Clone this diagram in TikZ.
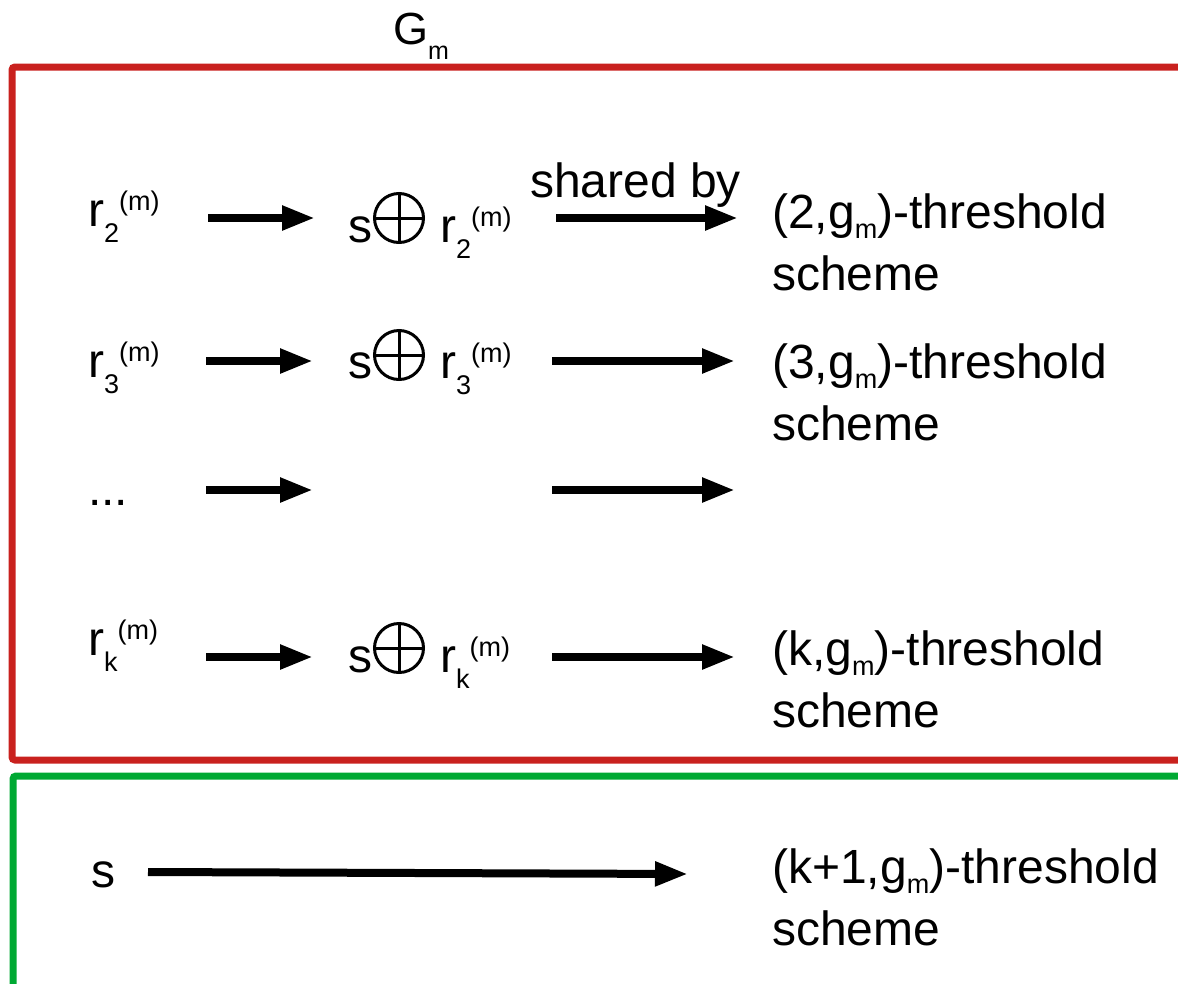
\documentclass[tikz,border=0pt]{standalone}
\usepackage{fontspec}
\setmainfont{Liberation Sans}
\usetikzlibrary{arrows.meta}
\definecolor{gmred}{RGB}{201,33,30}
\definecolor{gmgreen}{RGB}{0,169,51}
\newcommand{\bigfs}{\fontsize{48}{62}\selectfont}
\newcommand{\smfs}{\fontsize{27}{30}\selectfont}
\newcommand{\Rsm}[1]{r\raisebox{-16pt}{\smfs #1}\raisebox{16pt}{\smfs (m)}}
\newcommand{\Gsb}{\raisebox{-10pt}{\smfs m}}
\tikzset{
  txt/.style={anchor=base west, inner sep=0pt, font=\bigfs, align=left},
  arr/.style={line width=8pt, -{Triangle[length=33pt,width=23pt]}},
  oplus/.style={circle, draw, line width=3pt, minimum size=49pt, inner sep=0pt,
    path picture={\draw[line width=3pt]
      (path picture bounding box.north) -- (path picture bounding box.south)
      (path picture bounding box.west) -- (path picture bounding box.east);}},
  frame/.style={line width=7pt, rounded corners=3pt}
}
\begin{document}
\begin{tikzpicture}[x=1pt,y=-1pt]
\useasboundingbox (0,0) rectangle (1178,983);
\clip (0,0) rectangle (1178,983);
% boxes
\draw[frame, gmred] (1200,67) -- (12,67) -- (12,760) -- (1200,760);
\draw[frame, gmgreen] (1200,776) -- (13,776) -- (13,1000);
\node[txt, font=\fontsize{45}{50}\selectfont] (G) at (393,44) {G\raisebox{-15pt}{\fontsize{25}{28}\selectfont m}};
% row 1
\node[txt] (l1) at (88,226) {\Rsm{2}};
\node[txt] (s1) at (348,242) {s};
\node[oplus] (o1) at (399,218) {};
\node[txt] (r1) at (440,242) {\Rsm{2}};
\node[txt] (sb) at (530,197) {shared by};
\node[txt] (t1) at (772,290) {(2,g\Gsb)-threshold\\scheme};
\coordinate (a1s) at (208,218); \coordinate (a1e) at (315,218);
\coordinate (b1s) at (556,218); \coordinate (b1e) at (738,218);
\draw[arr] (a1s) -- (a1e);
\draw[arr] (b1s) -- (b1e);
% row 2
\node[txt] (l2) at (88,377) {\Rsm{3}};
\node[txt] (s2) at (348,378) {s};
\node[oplus] (o2) at (399,355) {};
\node[txt] (r2) at (440,378) {\Rsm{3}};
\node[txt] (t2) at (772,440) {(3,g\Gsb)-threshold\\scheme};
\coordinate (a2s) at (206,361); \coordinate (a2e) at (313,361);
\coordinate (b2s) at (552,361); \coordinate (b2e) at (735,361);
\draw[arr] (a2s) -- (a2e);
\draw[arr] (b2s) -- (b2e);
% row 3
\node[txt] (l3) at (88,505) {...};
\coordinate (a3s) at (206,490); \coordinate (a3e) at (313,490);
\coordinate (b3s) at (552,490); \coordinate (b3e) at (735,490);
\draw[arr] (a3s) -- (a3e);
\draw[arr] (b3s) -- (b3e);
% row 4
\node[txt] (l4) at (88,655) {\Rsm{k}};
\node[txt] (s4) at (348,672) {s};
\node[oplus] (o4) at (399,648) {};
\node[txt] (r4) at (440,672) {\Rsm{k}};
\node[txt] (t4) at (772,727) {(k,g\Gsb)-threshold\\scheme};
\coordinate (a4s) at (206,657); \coordinate (a4e) at (313,657);
\coordinate (b4s) at (552,657); \coordinate (b4e) at (735,657);
\draw[arr] (a4s) -- (a4e);
\draw[arr] (b4s) -- (b4e);
% row 5
\node[txt] (l5) at (91,887) {s};
\node[txt] (t5) at (772,945) {(k+1,g\Gsb)-threshold\\scheme};
\coordinate (a5s) at (148,872); \coordinate (a5e) at (688,874);
\draw[arr] (a5s) -- (a5e);
\end{tikzpicture}
\end{document}
